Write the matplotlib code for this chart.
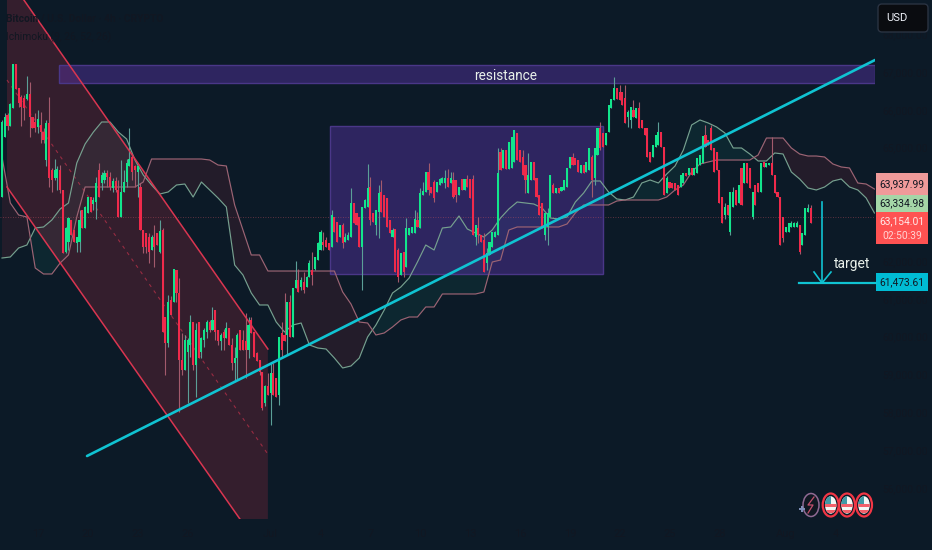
import numpy as np
import matplotlib
matplotlib.use("Agg")
import matplotlib.pyplot as plt
from matplotlib.patches import Rectangle, Ellipse, FancyBboxPatch, Polygon

opens = [63700,65290,65860,65570,66040,67210,66570,66350,66300,66290,
66420,65820,65690,65550,65600,65420,64670,65660,64410,64190,
64190,64410,63880,62250,62510,63080,62820,62470,62510,63350,
62860,63260,63700,63510,63570,64410,64060,64140,64320,64230,
63920,64120,63880,63170,63830,64100,64500,64760,64500,64360,
63970,62820,62730,62640,62290,62640,62730,62250,62820,60530,
59820,60970,60920,61760,61140,59380,59120,59600,59780,60390,
59250,60390,59600,59910,60130,60390,60170,60700,60170,59870,
60130,59950,60220,59780,59290,59430,60170,59910,59870,59640,
60440,60130,59560,59380,59070,58230,58680,58500,59030,58900,
58450,60085,60040,60040,60920,60000,61280,61500,
61320,61450,61320,61580,61760,61800,62025,62290,62510,62555,62470,62380,
63170,63040,62640,62950,62510,62555,62640,63525,63260,63170,
62380,63390,63435,63950,63260,62950,63305,63825,63745,63660,
63085,62640,62840,62290,61630,62250,61850,62690,62730,62730,
63085,62865,63745,63830,64360,63965,64100,63830,64010,64055,
64055,64190,64055,64140,64140,63745,64160,63880,64160,64160,
64160,62640,62865,62690,62555,61940,62160,62380,62640,62690,
64890,64450,64935,64425,64450,64630,65375,64935,64760,64540,
63790,64140,64630,64190,63745,63525,62690,62910,63170,64010,
63790,63920,63860,63880,63965,64450,64760,64715,64670,64320,
64540,64360,64410,64760,64190,64805,65510,65375,65070,
65420,66040,66260,66570,66480,66480,66300,65820,65730,65995,65775,
66040,65730,65510,65510,64890,64760,65025,65070,65420,65025,
63790,64100,64055,64055,64010,63965,64055,64335,64275,64450,
64275,64320,64540,64585,65330,65200,65510,64980,64890,64410,
63700,63215,63480,62775,63435,63880,63525,64450,64055,64585,
64450,63170,64010,64055,63830,64630,64495,64540,64585,64275,
63830,63700,63170,62775,62775,62905,62905,62905,62950,62420,62690,63305,63390]

closes = [65690,65820,65570,66150,67210,66540,66170,66080,66060,66420,
65820,65510,65510,65760,65420,65200,65660,64190,64140,64410,
64430,63880,62200,62860,63130,62690,62510,62640,63080,62860,
63420,63680,63300,63610,64060,63700,64280,64340,64230,63970,
64120,63880,63170,63830,64100,64580,64710,64360,64410,64500,
62820,62360,62380,62250,62640,62380,62420,62780,60130,59820,
60920,60570,61780,61140,59380,59120,59910,59910,60390,59250,
60170,59430,59950,60170,60390,60170,60440,60130,59870,60040,
59950,60220,59780,59290,59430,60040,59640,59640,59640,60305,
60085,59470,59340,59070,58100,58680,58450,59030,58450,58410,
59980,59640,59870,60920,60000,61280,61500,61190,
61500,61230,61580,61940,61630,62110,62470,62775,62420,62380,62290,63216,
62775,62510,62950,62470,62640,62690,63525,63000,62950,62380,
63435,63615,63920,63085,63040,63350,63805,63305,63170,62910,
62730,62820,61720,61585,62200,61720,62860,62860,62910,63100,
62910,63790,63860,64360,63880,63790,63660,64100,64160,64190,
64190,63965,64190,63700,63745,63965,63880,64160,63950,63660,
62690,62950,62690,62510,61720,62200,62510,62775,62775,64320,
64410,64935,64425,65155,65290,65465,64670,64630,64275,64140,
64275,64630,64140,63700,63215,62865,63260,63260,64275,63790,
63920,63790,63950,64140,64450,64760,64540,64540,64360,64540,
64320,64630,64980,64140,64980,65510,64980,65025,65375,
66125,66275,66570,66275,66260,66125,65640,65950,66080,65820,66040,
65510,65510,65335,64760,64630,65070,65335,65420,65025,63745,
64185,63920,63920,63880,63745,64275,64320,64250,64450,64275,
64450,64715,64805,65305,65025,65070,64935,64360,64410,63525,
62995,63435,63215,63830,63830,63480,64010,63480,64585,64055,
63920,63830,63480,63830,64585,64495,64585,64585,64275,63790,
63700,62420,62600,62905,62995,62995,62995,62995,62245,62730,63390,63390,62995]

highs = [65730,65910,65910,66170,67210,67210,66570,66390,66390,66890,
66740,65820,65910,65990,65950,65510,65730,66330,64450,64710,
64500,64540,63880,62910,63170,63080,62820,62640,63350,63350,
63450,63700,63700,63700,64230,64580,64360,64410,64410,64360,
64190,64230,64140,64670,64410,64710,65510,64850,64540,64500,
64060,62820,62730,62730,62700,62950,62730,63080,62860,60530,
61100,61060,61800,61760,61540,60085,60040,59950,60570,60390,
60350,60390,60000,60220,60440,60440,60790,60700,60170,60100,
60200,60390,60220,59950,59730,60100,60170,60170,60610,60530,
60530,60130,59600,59380,59070,58720,59030,59290,59290,58900,
60000,60390,61140,60920,61100,61280,62000,61800,
61580,61720,61600,62025,62250,62110,62500,62820,62775,62640,62470,63350,
63170,63040,62950,63000,62730,62775,63920,63525,63260,63170,
63435,63650,64565,64210,63260,63350,64010,64140,63745,63660,
63085,62870,62840,62330,62200,62250,63130,62860,62910,63350,
63305,63920,64100,64360,64580,63965,64140,64100,64200,64230,
64410,64425,64360,64360,64140,63965,64160,64160,64275,64160,
64275,62950,63170,62690,62730,62330,62510,62775,62800,64980,
64980,64935,64935,65155,65290,65465,65375,64935,64935,64540,
64850,64630,64630,64190,63745,63525,63260,63390,64275,64055,
63920,63920,63950,64140,64450,64760,64865,64540,64670,64540,
64540,64630,64980,64805,64980,65510,65685,65375,65375,
66125,66275,66880,66570,66650,66480,66650,65990,66080,66260,66040,
66215,65730,65510,65510,64890,65070,65335,65685,65420,65025,
64250,64100,64055,64055,64010,64275,64320,64335,64450,64450,
64450,64715,64805,65305,65600,65200,65600,64980,64890,64410,
63700,63525,63480,63830,63965,63880,64010,64450,64585,64585,
64450,63830,64010,64055,64585,64630,64585,64585,65290,64275,
63830,63700,63170,62905,63000,63050,63030,63050,62950,62730,63390,63505,63480]

lows = [63700,65290,65470,65570,66040,66540,66080,65570,65730,66260,
65290,65510,65420,65380,65110,65110,64500,63970,63830,64140,
63880,63810,62200,62200,62290,62690,62510,62230,62230,62860,
62860,63260,63300,63350,63100,63700,63880,64070,63970,63880,
63830,63830,63170,63170,63830,63970,64500,64140,63970,63700,
62820,62200,62200,61940,62290,61850,62420,62200,60130,58980,
59730,60570,60920,60920,58010,58980,59120,58230,59470,59120,
58410,59430,59430,59730,59950,60130,60170,59910,59780,59640,
59640,59950,59780,59120,58850,58850,59640,59640,58900,59430,
60085,59470,59340,58980,58060,58150,58450,57660,58450,58410,
58190,59430,59870,59510,60000,60000,61280,61190,
61230,61140,61320,61580,61360,61760,62025,62290,62290,62380,62290,62380,
62775,62510,62640,62340,62510,62555,62640,63000,62950,62380,
61230,63390,63435,62950,63040,62690,62600,63305,63170,62910,
62730,62640,61720,61450,61630,61585,61850,62690,62730,62730,
62910,62865,63745,63830,63745,63790,63570,63830,64010,64055,
63920,63965,64055,63660,63570,63745,63880,63880,63950,63660,
62690,62420,62470,62510,61720,61760,62160,62380,62640,62690,
64410,64450,64425,64425,64450,64630,64670,64630,64275,63790,
63790,64140,64140,63700,63215,62865,62555,62420,63170,63790,
63790,63790,63860,63880,63965,64450,64540,64540,64360,64320,
64320,64360,64410,63700,64010,64805,64935,65025,65070,
65420,66040,66260,66275,66260,66125,65640,65550,65510,65820,65775,
65510,65510,65335,64760,64630,64760,65025,65070,65025,63745,
63790,63920,63920,63880,63745,63965,64055,64250,64275,64275,
64275,64320,64540,64585,65025,65070,64935,64360,64410,63525,
62995,63100,63215,62690,63435,63480,63525,63480,64055,64055,
63920,63100,63480,63830,63830,64495,64495,64540,64275,63790,
63700,62420,62500,62775,62775,62905,62905,62905,62175,62420,62690,63305,62995]

# Ichimoku leading spans, read every third 4h bar
span_a = [62078,62105,62343,62422,62872,62899,63084,63375,63534,64592,
65095,65412,65677,65677,65412,65227,64671,64275,64010,63772,
63825,64010,64036,63692,64089,63878,63666,63428,61893,61629,
61152,60835,60835,60385,60120,60305,60358,59776,59697,59670,
59432,59168,59221,59432,59988,60305,60702,61152,61311,61549,
61972,62422,62290,62872,62899,63190,62846,62740,62634,62819,
63137,63375,63560,63534,63507,63401,63137,63110,63163,63560,
63798,64116,64116,63825,63640,63613,63692,64063,64142,64063,
64301,64513,64936,65598,65730,65650,65545,65386,64989,64989,
64830,64645,64645,64857,64830,64354,64169,63931,63878,63957,
64116,64169,63957,63878,63666,63269]
span_b = [64751,63534,63216,63163,61814,61655,61655,61946,62158,63163,
63957,63957,63957,63957,63957,63957,63957,64089,64698,64698,
64698,64698,64698,64698,64698,64671,64539,64513,63481,62819,
62158,62158,61734,61734,61734,61734,61734,61734,61734,61734,
61734,61179,60861,60385,60358,60041,60094,60253,60438,60517,
60517,60782,60782,61126,61126,61126,61126,61126,61179,61972,
62025,62819,62899,62899,62899,62899,62899,62899,62978,63269,
63481,63481,63481,63481,63587,63613,63613,63613,63613,63613,
63692,63878,64010,64354,64566,64619,64671,64671,64671,64671,
64671,64804,65253,65253,65253,64989,64830,64777,64777,64751,
64566,64487,64460,64063,64036,63904]
span_bars = np.arange(len(span_a)) * 3

price_ticks = [56000,57000,58000,59000,60000,61000,62000,63000,64000,65000,66000,67000,68000]
date_bars = [13,31,49,67,97,115,133,151,169,187,205,223,241,259,283,301]
date_labels = ["17","20","23","26","Jul","4","7","10","13","16","19","22","25","28","Aug","4"]

last_price = 63154
target_price = 61473.61

channel_bars = [1.8,7.9,96,96,85.9,1.8]
channel_prices = [68905,68905,59670,55172,55172,63957]
mid_bars = [1.8,95.7]
mid_prices = [66788,56919]
trend_bars = [30.7,315.2]
trend_prices = [56839,67317]

BG = "#0c1a27"
DARK = "#111722"
CYAN = "#00bcd4"
LINE = "#10c3d2"
FONT = "Roboto"

fig = plt.figure(figsize=(9.32,5.5), dpi=100, facecolor=BG)
ax = fig.add_axes([0, 31/550, 875/932, 519/550], facecolor=BG)
ax.set_xlim(-0.722, 315.2)
ax.set_ylim(55172, 68905)
for s in ax.spines.values():
    s.set_visible(False)
ax.yaxis.tick_right()
ax.set_yticks(price_ticks)
ax.set_yticklabels([f"{p:,.2f}" for p in price_ticks], fontsize=7.4, color=DARK, family=FONT)
ax.set_xticks(date_bars)
ax.set_xticklabels(date_labels, fontsize=8, color=DARK, family=FONT)
ax.tick_params(axis="y", length=0, pad=5.5)
ax.tick_params(axis="x", length=0, pad=7)

# Ichimoku cloud
a = np.array(span_a); b = np.array(span_b)
ax.fill_between(span_bars, a, b, where=a >= b, interpolate=True, color="#22ab94", alpha=0.09, lw=0, zorder=1)
ax.fill_between(span_bars, a, b, where=a < b, interpolate=True, color="#f23645", alpha=0.10, lw=0, zorder=1)
ax.plot(span_bars, a, color="#76a08f", lw=0.85, zorder=2)
ax.plot(span_bars, b, color="#9c6474", lw=0.85, zorder=2)

# drawings
ax.add_patch(Polygon(np.column_stack([channel_bars, channel_prices]), closed=True, fc="#d8304a", alpha=0.2, ec="none", zorder=1.5))
ax.plot(channel_bars[1:3], channel_prices[1:3], color="#d93550", lw=1.1, zorder=4)
ax.plot([channel_bars[4],channel_bars[5]], [channel_prices[4],channel_prices[5]], color="#d93550", lw=1.1, zorder=4)
ax.plot(mid_bars, mid_prices, color="#d93550", lw=0.8, ls=(0,(3,4)), alpha=0.6, zorder=1.6)

ax.axhline(last_price, color="#c2505f", lw=0.6, ls=(0,(1,2)), alpha=0.6, zorder=1.6)

def px_x(p): return (p-2)/2.77
def px_y(p): return 68905-26.46*p
for (x0,y0,x1,y1) in [(330,126,603,274),(59,65,875,83)]:
    ax.add_patch(Rectangle((px_x(x0),px_y(y1)), px_x(x1)-px_x(x0), px_y(y0)-px_y(y1),
                           fc="#5e35b1", alpha=0.42, ec="none", zorder=1.5))
    ax.add_patch(Rectangle((px_x(x0),px_y(y1)), px_x(x1)-px_x(x0), px_y(y0)-px_y(y1),
                           fc="none", ec="#4a3788", lw=1, zorder=1.6))
ax.text(px_x(506), px_y(76), "resistance", color="#e8f0ea", fontsize=9.8, family=FONT,
        ha="center", va="center", zorder=6)

# candles
idx = np.arange(len(opens))
o = np.array(opens); c = np.array(closes); h = np.array(highs); l = np.array(lows)
up = c >= o
ax.vlines(idx[up], l[up], h[up], color="#5b9f97", lw=0.8, zorder=3)
ax.vlines(idx[~up], l[~up], h[~up], color="#a35a6c", lw=0.8, zorder=3)
ax.bar(idx[up], (c-o)[up], bottom=o[up], width=0.76, color="#12e58c", lw=0, zorder=3.2)
ax.bar(idx[~up], (c-o)[~up], bottom=o[~up], width=0.76, color="#f02a4b", lw=0, zorder=3.2)

# trend line
ax.plot(trend_bars, trend_prices, color=LINE, lw=1.9, zorder=5, solid_capstyle="round")

# overlay in pixels for interface elements
ov = fig.add_axes([0,0,1,1], facecolor="none")
ov.set_xlim(0,932); ov.set_ylim(550,0); ov.axis("off")

ov.plot([822,822],[202,282], color=LINE, lw=1.2)
ov.plot([814,822,831],[272,283,272], color=LINE, lw=1.2)
ov.plot([799,876],[283,283], color=LINE, lw=1.6)
ov.text(852,264,"target", color="#e8f0ea", fontsize=10, family=FONT, ha="center", va="center")

ov.text(6,18,"Bitcoin / U.S. Dollar · 4h · CRYPTO", color=DARK, fontsize=7.4, family=FONT, weight="bold", va="center")
ov.text(6,37,"Ichimoku (9, 26, 52, 26)", color=DARK, fontsize=7.4, family=FONT, va="center")

tags = [(173,195,"#ef9a9a","63,937.99",DARK),(195,212,"#a5d6a7","63,334.98",DARK),(273,291,CYAN,"61,473.61",DARK)]
for y0,y1,col,txt,tc in tags:
    ov.add_patch(Rectangle((876,y0),52,y1-y0,fc=col,ec="none"))
    ov.text(902,(y0+y1)/2,txt,color=tc,fontsize=7.4,family=FONT,ha="center",va="center")
ov.add_patch(Rectangle((876,212),52,32,fc="#ff5252",ec="none"))
ov.text(902,221,"63,154.01",color="#ffe9e9",fontsize=7.4,family=FONT,ha="center",va="center")
ov.text(902,236,"02:50:39",color="#ffd4d4",fontsize=7.4,family=FONT,ha="center",va="center")

ov.add_patch(FancyBboxPatch((878,4),50,28,boxstyle="round,pad=0,rounding_size=4",fc="#0a0c10",ec="#2a3342",lw=1))
ov.text(886,18,"USD",color="#f0f3fa",fontsize=8,family=FONT,ha="left",va="center")

# alert icons
ov.add_patch(Ellipse((811,505),16,23,fc="#101822",ec="#8f6a93",lw=1.1))
ov.plot([814,808,813,808],[497,505,505,513],color="#c2506c",lw=0.9)
ov.scatter([802],[509],marker="P",s=22,color="#7f8fb8",lw=0)
for cx in (830.7,847,864):
    ov.add_patch(Ellipse((cx,505),16,23,fc="#0c1a27",ec="#f23645",lw=1.6))
    e = Ellipse((cx,505),11.5,17.5,fc="#f4f6f4",ec="none")
    ov.add_patch(e)
    for r in (Rectangle((cx-8,504),16,2.5,fc="#f2606a",ec="none"),
              Rectangle((cx-8,510),16,2.5,fc="#f2606a",ec="none"),
              Rectangle((cx-6,496),6,8,fc="#3f9aa6",ec="none")):
        ov.add_patch(r); r.set_clip_path(e)

fig.savefig("out.png", dpi=100, facecolor=BG)
